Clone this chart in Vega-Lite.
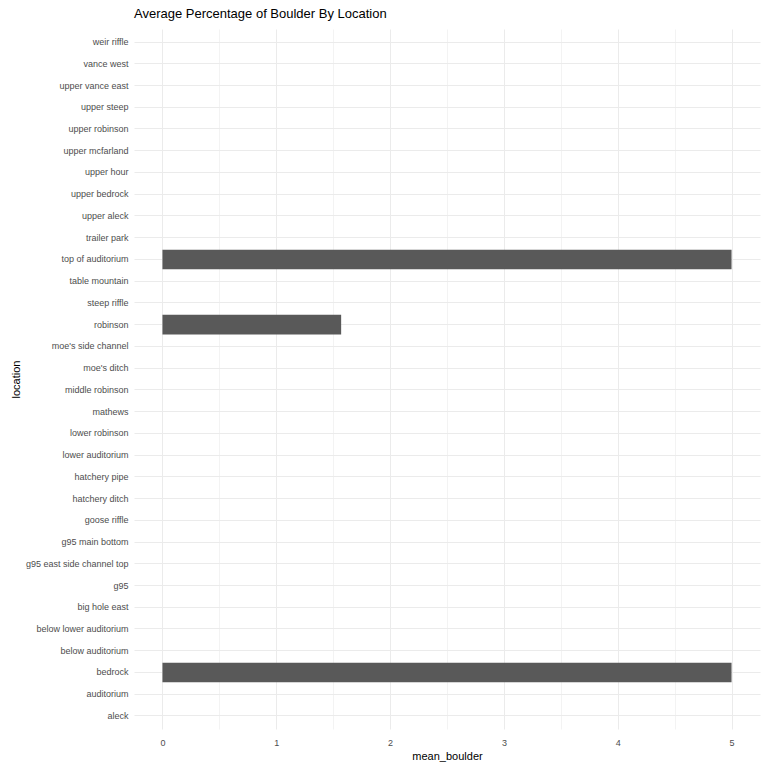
{
  "$schema": "https://vega.github.io/schema/vega-lite/v6.json",
  "width": 626,
  "height": 700,
  "autosize": "none",
  "padding": {"left": 134, "top": 29, "right": 8, "bottom": 39},
  "background": "white",
  "title": {
    "text": "Average Percentage of Boulder By Location",
    "anchor": "start",
    "frame": "group",
    "font": "Liberation Sans",
    "fontSize": 13,
    "fontWeight": "normal",
    "color": "#000000",
    "offset": 8
  },
  "data": {
    "values": [
      {"location": "weir riffle", "mean_boulder": 0},
      {"location": "vance west", "mean_boulder": 0},
      {"location": "upper vance east", "mean_boulder": 0},
      {"location": "upper steep", "mean_boulder": 0},
      {"location": "upper robinson", "mean_boulder": 0},
      {"location": "upper mcfarland", "mean_boulder": 0},
      {"location": "upper hour", "mean_boulder": 0},
      {"location": "upper bedrock", "mean_boulder": 0},
      {"location": "upper aleck", "mean_boulder": 0},
      {"location": "trailer park", "mean_boulder": 0},
      {"location": "top of auditorium", "mean_boulder": 5},
      {"location": "table mountain", "mean_boulder": 0},
      {"location": "steep riffle", "mean_boulder": 0},
      {"location": "robinson", "mean_boulder": 1.57},
      {"location": "moe's side channel", "mean_boulder": 0},
      {"location": "moe's ditch", "mean_boulder": 0},
      {"location": "middle robinson", "mean_boulder": 0},
      {"location": "mathews", "mean_boulder": 0},
      {"location": "lower robinson", "mean_boulder": 0},
      {"location": "lower auditorium", "mean_boulder": 0},
      {"location": "hatchery pipe", "mean_boulder": 0},
      {"location": "hatchery ditch", "mean_boulder": 0},
      {"location": "goose riffle", "mean_boulder": 0},
      {"location": "g95 main bottom", "mean_boulder": 0},
      {"location": "g95 east side channel top", "mean_boulder": 0},
      {"location": "g95", "mean_boulder": 0},
      {"location": "big hole east", "mean_boulder": 0},
      {"location": "below lower auditorium", "mean_boulder": 0},
      {"location": "below auditorium", "mean_boulder": 0},
      {"location": "bedrock", "mean_boulder": 5},
      {"location": "auditorium", "mean_boulder": 0},
      {"location": "aleck", "mean_boulder": 0}
    ]
  },
  "config": {
    "view": {"stroke": null},
    "axis": {
      "domain": false,
      "ticks": false,
      "gridColor": "#EBEBEB",
      "labelFont": "Liberation Sans",
      "labelFontSize": 9,
      "labelColor": "#4D4D4D",
      "titleFont": "Liberation Sans",
      "titleFontSize": 11,
      "titleFontWeight": "normal",
      "titleColor": "#000000"
    }
  },
  "mark": {"type": "bar", "color": "#595959"},
  "encoding": {
    "y": {
      "field": "location",
      "type": "nominal",
      "sort": null,
      "scale": {"paddingInner": 0.1, "paddingOuter": 0.15},
      "axis": {
        "title": "location",
        "labelPadding": 6,
        "labelBaseline": "middle",
        "titlePadding": 4,
        "grid": true,
        "gridWidth": 1
      }
    },
    "x": {
      "field": "mean_boulder",
      "type": "quantitative",
      "scale": {"domain": [-0.25, 5.25], "nice": false, "zero": false},
      "axis": {
        "title": "mean_boulder",
        "values": [0, 0.5, 1, 1.5, 2, 2.5, 3, 3.5, 4, 4.5, 5],
        "labelExpr": "datum.value % 1 == 0 ? format(datum.value, 'd') : ''",
        "labelPadding": 9,
        "titlePadding": 3,
        "grid": true,
        "gridWidth": {"condition": {"test": "datum.value % 1 != 0", "value": 0.6}, "value": 1}
      }
    }
  }
}
